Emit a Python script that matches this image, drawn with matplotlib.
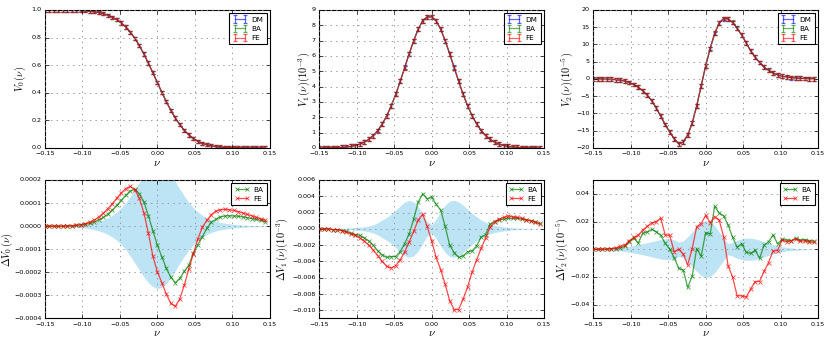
import numpy as np
import matplotlib
matplotlib.use("Agg")
import matplotlib.pyplot as plt

plt.style.use("classic")
plt.rcParams["font.size"] = 4.6
plt.rcParams["xtick.major.pad"] = 2.5
plt.rcParams["ytick.major.pad"] = 2.5
plt.rcParams["xtick.major.size"] = 3
plt.rcParams["ytick.major.size"] = 3
plt.rcParams["axes.linewidth"] = 0.8
plt.rcParams["grid.color"] = "0.55"
plt.rcParams["grid.linewidth"] = 0.6

# nu grid
nu = np.array([-0.150, -0.144, -0.138, -0.132, -0.126, -0.120, -0.114, -0.108, -0.102, -0.096,
               -0.090, -0.084, -0.078, -0.072, -0.066, -0.060, -0.054, -0.048, -0.042, -0.036,
               -0.030, -0.024, -0.018, -0.012, -0.006, 0.000, 0.006, 0.012, 0.018, 0.024,
               0.030, 0.036, 0.042, 0.048, 0.054, 0.060, 0.066, 0.072, 0.078, 0.084,
               0.090, 0.096, 0.102, 0.108, 0.114, 0.120, 0.126, 0.132, 0.138, 0.144])

# DM values
V0_dm = np.array([1.000, 1.000, 1.000, 0.999, 0.999, 0.999, 0.998, 0.997, 0.996, 0.994,
                  0.991, 0.987, 0.981, 0.973, 0.962, 0.948, 0.930, 0.906, 0.876, 0.839,
                  0.794, 0.741, 0.681, 0.615, 0.545, 0.474, 0.403, 0.335, 0.273, 0.217,
                  0.169, 0.128, 0.095, 0.069, 0.049, 0.034, 0.023, 0.015, 0.010, 0.006,
                  0.004, 0.002, 0.0015, 0.001, 0.0005, 0.0003, 0.0002, 0.0001, 0.0001, 0.0])
V1_dm = np.array([0.00, 0.00, 0.01, 0.01, 0.02, 0.04, 0.06, 0.10, 0.16, 0.25,
                  0.38, 0.56, 0.81, 1.14, 1.57, 2.10, 2.75, 3.50, 4.35, 5.25,
                  6.15, 7.00, 7.75, 8.30, 8.55, 8.55, 8.30, 7.75, 7.00, 6.15,
                  5.25, 4.35, 3.50, 2.75, 2.10, 1.57, 1.14, 0.81, 0.56, 0.38,
                  0.25, 0.16, 0.10, 0.06, 0.04, 0.02, 0.01, 0.01, 0.00, 0.00])
V2_dm = np.array([0.0, 0.0, 0.0, -0.05, -0.1, -0.2, -0.35, -0.6, -1.0, -1.6,
                  -2.4, -3.4, -4.7, -6.3, -8.4, -10.8, -13.2, -15.4, -17.3, -18.8,
                  -18.3, -16.2, -12.8, -7.8, -2.0, 3.8, 8.8, 13.2, 16.2, 17.5,
                  17.4, 16.4, 14.7, 12.8, 10.5, 8.2, 6.3, 4.8, 3.4, 2.5,
                  1.7, 1.2, 0.8, 0.6, 0.4, 0.3, 0.2, 0.15, 0.1, 0.1])

# top panel error bars
err0 = 0.012
err1 = 0.13
err2 = 0.55

# differences to DM
dV0_ba = np.array([0.00, 0.00, 0.00, 0.00, 0.00, 0.01, 0.01, 0.03, 0.05, 0.08,
                   0.12, 0.18, 0.27, 0.38, 0.52, 0.70, 0.90, 1.12, 1.35, 1.52,
                   1.60, 1.40, 1.06, 0.45, -0.20, -0.82, -1.33, -1.83, -2.22, -2.45,
                   -2.26, -1.95, -1.69, -1.18, -0.80, -0.46, -0.10, 0.17, 0.30, 0.40,
                   0.44, 0.45, 0.44, 0.43, 0.40, 0.37, 0.33, 0.29, 0.25, 0.20]) * 1e-4
dV0_fe = np.array([0.00, 0.00, 0.00, 0.00, 0.00, 0.01, 0.02, 0.04, 0.07, 0.11,
                   0.18, 0.27, 0.40, 0.56, 0.76, 0.98, 1.22, 1.45, 1.63, 1.72,
                   1.58, 1.20, 0.58, -0.30, -1.30, -1.98, -2.45, -2.95, -3.35, -3.47,
                   -3.15, -2.55, -1.85, -1.20, -0.55, -0.05, 0.25, 0.50, 0.65, 0.71,
                   0.73, 0.71, 0.68, 0.63, 0.57, 0.51, 0.45, 0.38, 0.32, 0.26]) * 1e-4
dV0_sd = np.array([0.00, 0.00, 0.00, 0.01, 0.01, 0.02, 0.03, 0.04, 0.06, 0.08,
                   0.11, 0.15, 0.20, 0.27, 0.36, 0.47, 0.62, 0.80, 1.02, 1.30,
                   1.60, 1.90, 2.20, 2.45, 2.62, 2.70, 2.65, 2.48, 2.22, 1.92,
                   1.60, 1.30, 1.03, 0.80, 0.62, 0.47, 0.36, 0.27, 0.21, 0.16,
                   0.13, 0.10, 0.08, 0.07, 0.05, 0.04, 0.03, 0.03, 0.02, 0.02]) * 1e-4

dV1_ba = np.array([0.0000, 0.0000, 0.0000, -0.0001, -0.0001, -0.0002, -0.0003, -0.0005, -0.0007, -0.0008,
                   -0.0011, -0.0015, -0.0020, -0.0027, -0.0032, -0.0035, -0.0034, -0.0034, -0.0028, -0.0018,
                   -0.0006, 0.0012, 0.0033, 0.0043, 0.0037, 0.0039, 0.0030, 0.0023, 0.0003, -0.0020,
                   -0.0029, -0.0035, -0.0033, -0.0028, -0.0027, -0.0021, -0.0010, -0.0007, 0.0006, 0.0009,
                   0.0011, 0.0012, 0.0013, 0.0013, 0.0013, 0.0012, 0.0011, 0.0010, 0.0009, 0.0007])
dV1_fe = np.array([0.0000, 0.0000, 0.0000, -0.0001, -0.0001, -0.0002, -0.0004, -0.0006, -0.0008, -0.0011,
                   -0.0015, -0.0020, -0.0026, -0.0033, -0.0040, -0.0046, -0.0048, -0.0045, -0.0038, -0.0028,
                   -0.0016, -0.0003, 0.0011, 0.0018, 0.0003, -0.0015, -0.0035, -0.0050, -0.0068, -0.0088,
                   -0.0099, -0.0099, -0.0086, -0.0071, -0.0053, -0.0038, -0.0024, -0.0011, 0.0002, 0.0009,
                   0.0012, 0.0014, 0.0016, 0.0015, 0.0014, 0.0013, 0.0011, 0.0010, 0.0008, 0.0006])
dV1_sd = np.array([0.0, 0.0, 0.0, 0.00002, 0.00004, 0.00006, 0.0001, 0.00013, 0.00017, 0.00021,
                   0.00026, 0.00035, 0.0005, 0.00075, 0.0011, 0.0014, 0.0018, 0.0023, 0.0028, 0.0033,
                   0.0035, 0.0033, 0.0027, 0.0018, 0.0009, 0.0005, 0.0012, 0.0021, 0.0029, 0.0034,
                   0.0035, 0.0033, 0.0029, 0.0024, 0.0019, 0.0015, 0.0011, 0.0008, 0.0006, 0.00045,
                   0.00034, 0.00025, 0.00018, 0.00013, 0.0001, 0.00007, 0.00005, 0.00003, 0.00002, 0.00001])

dV2_ba = np.array([0.0000, 0.0000, 0.0000, 0.0002, 0.0003, 0.0005, 0.0010, 0.0020, 0.0055, 0.0080,
                   0.0045, 0.0115, 0.0125, 0.0144, 0.0127, 0.0100, 0.0043, 0.0000, -0.0060, -0.0137,
                   -0.0150, -0.0274, -0.0195, 0.0005, -0.0050, 0.0120, 0.0110, 0.0310, 0.0262, 0.0240,
                   0.0175, 0.0085, 0.0015, 0.0040, -0.0020, -0.0030, -0.0008, -0.0065, 0.0030, 0.0055,
                   0.0103, 0.0040, 0.0072, 0.0067, 0.0063, 0.0078, 0.0067, 0.0070, 0.0063, 0.0060])
dV2_fe = np.array([0.0000, 0.0000, 0.0000, 0.0002, 0.0004, 0.0010, 0.0020, 0.0030, 0.0062, 0.0085,
                   0.0100, 0.0139, 0.0165, 0.0190, 0.0200, 0.0225, 0.0103, 0.0100, -0.0017, 0.0000,
                   -0.0035, -0.0113, 0.0005, 0.0163, 0.0185, 0.0245, 0.0192, 0.0235, 0.0211, 0.0091,
                   -0.0120, -0.0202, -0.0336, -0.0336, -0.0346, -0.0288, -0.0233, -0.0233, -0.0158, -0.0096,
                   -0.0012, -0.0010, 0.0067, 0.0055, 0.0060, 0.0075, 0.0058, 0.0062, 0.0055, 0.0050])
dV2_sd = np.array([0.0, 0.0, 0.0, 0.0003, 0.0005, 0.0008, 0.0012, 0.0016, 0.0021, 0.0027,
                   0.0033, 0.0040, 0.0047, 0.0055, 0.0063, 0.0070, 0.0075, 0.0076, 0.0068, 0.0052,
                   0.0060, 0.0090, 0.0125, 0.0160, 0.0190, 0.0205, 0.0195, 0.0170, 0.0125, 0.0080,
                   0.0040, 0.0050, 0.0065, 0.0075, 0.0080, 0.0080, 0.0075, 0.0066, 0.0055, 0.0044,
                   0.0034, 0.0025, 0.0018, 0.0013, 0.0009, 0.0007, 0.0005, 0.0004, 0.0003, 0.0002])

top = [
    (V0_dm, V0_dm + dV0_ba, V0_dm + dV0_fe, err0, (0, 1.0), r"$V_0\,(\nu)$", -0.076),
    (V1_dm, V1_dm + dV1_ba, V1_dm + dV1_fe, err1, (0, 9), r"$V_1\,(\nu)(10^{-3})$", -0.033),
    (V2_dm, V2_dm + dV2_ba, V2_dm + dV2_fe, err2, (-20, 20), r"$V_2\,(\nu)(10^{-5})$", -0.081),
]
bottom = [
    (dV0_ba, dV0_fe, dV0_sd, (-0.0004, 0.0002), r"$\Delta V_0\,(\nu)$", -0.135),
    (dV1_ba, dV1_fe, dV1_sd, (-0.011, 0.006), r"$\Delta V_1\,(\nu)(10^{-3})$", -0.13),
    (dV2_ba, dV2_fe, dV2_sd, (-0.05, 0.05), r"$\Delta V_2\,(\nu)(10^{-5})$", -0.105),
]

fig = plt.figure(figsize=(8.3, 3.46), dpi=100, facecolor="white")
lefts = [0.0542, 0.3847, 0.7148]
w = 0.2708
xt = [-0.15, -0.10, -0.05, 0.00, 0.05, 0.10, 0.15]


def finish(ax, ylim, lab, labx):
    ax.set_xlim(-0.15, 0.15)
    ax.set_ylim(*ylim)
    ax.set_xticks(xt)
    ax.grid(True)
    ax.set_ylabel(lab, fontsize=7.5)
    ax.yaxis.set_label_coords(labx, 0.5)
    ax.set_xlabel(r"$\nu$", fontsize=8, labelpad=1)
    leg = ax.legend(loc="upper right", fontsize=5.2, handlelength=2.0, borderpad=0.45,
                    labelspacing=0.45, handletextpad=0.6, borderaxespad=0.45)
    leg.get_frame().set_linewidth(0.8)


for i in range(3):
    ax = fig.add_axes([lefts[i], 0.5723, w, 0.3988])
    dm, ba, fe, err, ylim, lab, labx = top[i]
    for y, c, name in [(dm, "b", "DM"), (ba, "g", "BA"), (fe, "r", "FE")]:
        ax.errorbar(nu, y, yerr=err, color=c, ecolor=c, alpha=0.6, lw=0.9,
                    elinewidth=0.9, capsize=1.5, capthick=0.9, label=name)
    finish(ax, ylim, lab, labx)

for i in range(3):
    ax = fig.add_axes([lefts[i], 0.0795, w, 0.4003])
    ba, fe, sd, ylim, lab, labx = bottom[i]
    ax.fill_between(nu, -sd, sd, color="skyblue", alpha=0.55, lw=0, zorder=1)
    ax.plot(nu, ba, "g-x", alpha=0.7, lw=0.9, ms=3, mew=0.6, label="BA", zorder=3)
    ax.plot(nu, fe, "r-x", alpha=0.7, lw=0.9, ms=3, mew=0.6, label="FE", zorder=3)
    finish(ax, ylim, lab, labx)

fig.savefig("out.png", dpi=100, facecolor="white")
